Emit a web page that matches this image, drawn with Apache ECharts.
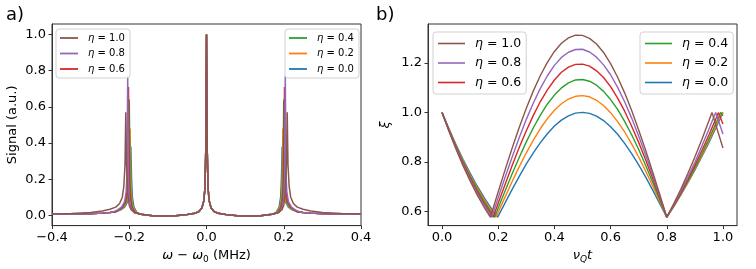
<!DOCTYPE html>
<html>
<head>
<meta charset="utf-8">
<script src="https://cdn.jsdelivr.net/npm/echarts@6/dist/echarts.min.js"></script>
<style>html,body{margin:0;padding:0;background:#fff}#chart{width:756px;height:269px}</style>
</head>
<body>
<div id="chart"></div>
<script>
// ---------- data ----------
const etaNames = ['η = 0.0', 'η = 0.2', 'η = 0.4', 'η = 0.6', 'η = 0.8', 'η = 1.0'];
const etaColors = ['#1f77b4', '#ff7f0e', '#2ca02c', '#d62728', '#9467bd', '#8c564b'];

// panel a) spectra: [omega - omega0 (MHz), signal]
const specEta00 = [[-0.4,0.006],[-0.35,0.007],[-0.3,0.009],[-0.27,0.012],[-0.25,0.015],[-0.235,0.02],[-0.222,0.03],[-0.212,0.045],[-0.204,0.075],[-0.2,0.13],[-0.198,0.22],[-0.196,0.38],[-0.194,0.2],[-0.192,0.1],[-0.188,0.045],[-0.18,0.015],[-0.17,0.006],[-0.14,-0.002],[-0.11,-0.004],[-0.08,-0.002],[-0.05,0.004],[-0.03,0.011],[-0.02,0.02],[-0.012,0.04],[-0.007,0.08],[-0.004,0.15],[-0.002,0.35],[0,1.0],[0.002,0.35],[0.004,0.15],[0.007,0.08],[0.012,0.04],[0.02,0.02],[0.03,0.011],[0.05,0.004],[0.08,-0.002],[0.11,-0.004],[0.14,-0.002],[0.17,0.006],[0.18,0.015],[0.188,0.045],[0.192,0.1],[0.194,0.2],[0.196,0.38],[0.198,0.22],[0.2,0.13],[0.204,0.075],[0.212,0.045],[0.222,0.03],[0.235,0.02],[0.25,0.015],[0.27,0.012],[0.3,0.009],[0.35,0.007],[0.4,0.006]];
const specEta02 = [[-0.4,0.006],[-0.35,0.007],[-0.3,0.009],[-0.27,0.012],[-0.25,0.015],[-0.235,0.02],[-0.224,0.03],[-0.214,0.045],[-0.206,0.075],[-0.202,0.13],[-0.2,0.22],[-0.198,0.48],[-0.196,0.2],[-0.194,0.1],[-0.19,0.045],[-0.182,0.015],[-0.17,0.006],[-0.14,-0.002],[-0.11,-0.004],[-0.08,-0.002],[-0.05,0.004],[-0.03,0.011],[-0.02,0.02],[-0.012,0.04],[-0.007,0.08],[-0.004,0.15],[-0.002,0.35],[0,1.0],[0.002,0.35],[0.004,0.15],[0.007,0.08],[0.012,0.04],[0.02,0.02],[0.03,0.011],[0.05,0.004],[0.08,-0.002],[0.11,-0.004],[0.14,-0.002],[0.17,0.006],[0.182,0.015],[0.19,0.045],[0.194,0.1],[0.196,0.2],[0.198,0.48],[0.2,0.22],[0.202,0.13],[0.206,0.075],[0.214,0.045],[0.224,0.03],[0.235,0.02],[0.25,0.015],[0.27,0.012],[0.3,0.009],[0.35,0.007],[0.4,0.006]];
const specEta04 = [[-0.4,0.006],[-0.35,0.007],[-0.3,0.009],[-0.27,0.012],[-0.25,0.015],[-0.235,0.02],[-0.226,0.03],[-0.216,0.045],[-0.208,0.075],[-0.204,0.13],[-0.202,0.22],[-0.2,0.64],[-0.198,0.2],[-0.196,0.1],[-0.192,0.045],[-0.184,0.015],[-0.17,0.006],[-0.14,-0.002],[-0.11,-0.004],[-0.08,-0.002],[-0.05,0.004],[-0.03,0.011],[-0.02,0.02],[-0.012,0.04],[-0.007,0.08],[-0.004,0.15],[-0.002,0.35],[0,1.0],[0.002,0.35],[0.004,0.15],[0.007,0.08],[0.012,0.04],[0.02,0.02],[0.03,0.011],[0.05,0.004],[0.08,-0.002],[0.11,-0.004],[0.14,-0.002],[0.17,0.006],[0.184,0.015],[0.192,0.045],[0.196,0.1],[0.198,0.2],[0.2,0.64],[0.202,0.22],[0.204,0.13],[0.208,0.075],[0.216,0.045],[0.226,0.03],[0.235,0.02],[0.25,0.015],[0.27,0.012],[0.3,0.009],[0.35,0.007],[0.4,0.006]];
const specEta06 = [[-0.4,0.006],[-0.35,0.007],[-0.3,0.009],[-0.27,0.012],[-0.25,0.015],[-0.235,0.02],[-0.228,0.03],[-0.218,0.045],[-0.21,0.075],[-0.206,0.13],[-0.204,0.22],[-0.202,0.71],[-0.2,0.2],[-0.198,0.1],[-0.194,0.045],[-0.186,0.015],[-0.17,0.006],[-0.14,-0.002],[-0.11,-0.004],[-0.08,-0.002],[-0.05,0.004],[-0.03,0.011],[-0.02,0.02],[-0.012,0.04],[-0.007,0.08],[-0.004,0.15],[-0.002,0.35],[0,1.0],[0.002,0.35],[0.004,0.15],[0.007,0.08],[0.012,0.04],[0.02,0.02],[0.03,0.011],[0.05,0.004],[0.08,-0.002],[0.11,-0.004],[0.14,-0.002],[0.17,0.006],[0.186,0.015],[0.194,0.045],[0.198,0.1],[0.2,0.2],[0.202,0.71],[0.204,0.22],[0.206,0.13],[0.21,0.075],[0.218,0.045],[0.228,0.03],[0.235,0.02],[0.25,0.015],[0.27,0.012],[0.3,0.009],[0.35,0.007],[0.4,0.006]];
const specEta08 = [[-0.4,0.006],[-0.35,0.007],[-0.3,0.009],[-0.27,0.012],[-0.25,0.015],[-0.24,0.02],[-0.23,0.03],[-0.22,0.045],[-0.212,0.075],[-0.208,0.13],[-0.206,0.22],[-0.204,0.77],[-0.202,0.2],[-0.2,0.1],[-0.196,0.045],[-0.188,0.015],[-0.17,0.006],[-0.14,-0.002],[-0.11,-0.004],[-0.08,-0.002],[-0.05,0.004],[-0.03,0.011],[-0.02,0.02],[-0.012,0.04],[-0.007,0.08],[-0.004,0.15],[-0.002,0.35],[0,1.0],[0.002,0.35],[0.004,0.15],[0.007,0.08],[0.012,0.04],[0.02,0.02],[0.03,0.011],[0.05,0.004],[0.08,-0.002],[0.11,-0.004],[0.14,-0.002],[0.17,0.006],[0.188,0.015],[0.196,0.045],[0.2,0.1],[0.202,0.2],[0.204,0.77],[0.206,0.22],[0.208,0.13],[0.212,0.075],[0.22,0.045],[0.23,0.03],[0.24,0.02],[0.25,0.015],[0.27,0.012],[0.3,0.009],[0.35,0.007],[0.4,0.006]];
const specEta10 = [[-0.4,0.007],[-0.35,0.01],[-0.3,0.016],[-0.27,0.024],[-0.25,0.033],[-0.235,0.045],[-0.225,0.065],[-0.218,0.1],[-0.214,0.16],[-0.211,0.28],[-0.209,0.57],[-0.207,0.28],[-0.204,0.12],[-0.2,0.055],[-0.195,0.03],[-0.185,0.014],[-0.17,0.006],[-0.14,-0.002],[-0.11,-0.004],[-0.08,-0.002],[-0.05,0.004],[-0.03,0.011],[-0.02,0.02],[-0.012,0.04],[-0.007,0.08],[-0.004,0.15],[-0.002,0.35],[0,1.0],[0.002,0.35],[0.004,0.15],[0.007,0.08],[0.012,0.04],[0.02,0.02],[0.03,0.011],[0.05,0.004],[0.08,-0.002],[0.11,-0.004],[0.14,-0.002],[0.17,0.006],[0.185,0.014],[0.195,0.03],[0.2,0.055],[0.204,0.12],[0.207,0.28],[0.209,0.57],[0.211,0.28],[0.214,0.16],[0.218,0.1],[0.225,0.065],[0.235,0.045],[0.25,0.033],[0.27,0.024],[0.3,0.016],[0.35,0.01],[0.4,0.007]];

// panel b) xi vs nu_Q t: [nu_Q t, xi]
const xiEta00 = [[0,1.0],[0.025,0.933],[0.05,0.869],[0.075,0.81],[0.1,0.755],[0.125,0.703],[0.15,0.656],[0.175,0.613],[0.198,0.577],[0.2,0.581],[0.225,0.636],[0.25,0.69],[0.275,0.742],[0.3,0.792],[0.325,0.837],[0.35,0.878],[0.375,0.914],[0.4,0.945],[0.425,0.969],[0.45,0.986],[0.475,0.997],[0.5,1.0],[0.525,0.996],[0.55,0.985],[0.575,0.967],[0.6,0.942],[0.625,0.912],[0.65,0.875],[0.675,0.834],[0.7,0.788],[0.725,0.739],[0.75,0.686],[0.775,0.632],[0.8,0.577],[0.825,0.621],[0.85,0.667],[0.875,0.716],[0.9,0.767],[0.925,0.822],[0.95,0.878],[0.975,0.938],[1.0,1.0]];
const xiEta02 = [[0,1.0],[0.025,0.931],[0.05,0.865],[0.075,0.805],[0.1,0.748],[0.125,0.696],[0.15,0.648],[0.175,0.604],[0.192,0.577],[0.2,0.597],[0.225,0.66],[0.25,0.722],[0.275,0.781],[0.3,0.837],[0.325,0.888],[0.35,0.935],[0.375,0.975],[0.4,1.009],[0.425,1.035],[0.45,1.054],[0.475,1.065],[0.5,1.068],[0.525,1.063],[0.55,1.049],[0.575,1.028],[0.6,0.999],[0.625,0.963],[0.65,0.921],[0.675,0.873],[0.7,0.82],[0.725,0.763],[0.75,0.703],[0.775,0.64],[0.8,0.577],[0.825,0.621],[0.85,0.668],[0.875,0.718],[0.9,0.771],[0.925,0.826],[0.95,0.884],[0.975,0.944],[0.997,1.0],[1.0,0.993]];
const xiEta04 = [[0,1.0],[0.025,0.929],[0.05,0.862],[0.075,0.8],[0.1,0.742],[0.125,0.689],[0.15,0.641],[0.175,0.597],[0.187,0.577],[0.2,0.614],[0.225,0.685],[0.25,0.753],[0.275,0.819],[0.3,0.881],[0.325,0.938],[0.35,0.989],[0.375,1.034],[0.4,1.07],[0.425,1.099],[0.45,1.119],[0.475,1.131],[0.5,1.133],[0.525,1.126],[0.55,1.11],[0.575,1.085],[0.6,1.052],[0.625,1.012],[0.65,0.964],[0.675,0.91],[0.7,0.85],[0.725,0.786],[0.75,0.718],[0.775,0.648],[0.8,0.577],[0.825,0.623],[0.85,0.671],[0.875,0.722],[0.9,0.776],[0.925,0.833],[0.95,0.893],[0.975,0.956],[0.992,1.0],[1.0,0.986]];
const xiEta06 = [[0,1.0],[0.025,0.927],[0.05,0.859],[0.075,0.795],[0.1,0.736],[0.125,0.682],[0.15,0.633],[0.175,0.589],[0.182,0.577],[0.2,0.634],[0.225,0.711],[0.25,0.787],[0.275,0.859],[0.3,0.926],[0.325,0.988],[0.35,1.044],[0.375,1.091],[0.4,1.131],[0.425,1.162],[0.45,1.183],[0.475,1.194],[0.5,1.195],[0.525,1.187],[0.55,1.168],[0.575,1.141],[0.6,1.104],[0.625,1.058],[0.65,1.005],[0.675,0.944],[0.7,0.879],[0.725,0.808],[0.75,0.733],[0.775,0.655],[0.8,0.577],[0.825,0.625],[0.85,0.675],[0.875,0.729],[0.9,0.786],[0.925,0.846],[0.95,0.909],[0.975,0.975],[0.984,1.0],[1.0,0.953]];
const xiEta08 = [[0,1.0],[0.025,0.925],[0.05,0.855],[0.075,0.79],[0.1,0.73],[0.125,0.675],[0.15,0.625],[0.177,0.577],[0.2,0.656],[0.225,0.74],[0.25,0.821],[0.275,0.899],[0.3,0.972],[0.325,1.038],[0.35,1.097],[0.375,1.148],[0.4,1.19],[0.425,1.222],[0.45,1.243],[0.475,1.254],[0.5,1.255],[0.525,1.244],[0.55,1.223],[0.575,1.192],[0.6,1.152],[0.625,1.101],[0.65,1.043],[0.675,0.977],[0.7,0.905],[0.725,0.827],[0.75,0.746],[0.775,0.662],[0.8,0.577],[0.825,0.627],[0.85,0.681],[0.875,0.739],[0.9,0.799],[0.925,0.864],[0.95,0.932],[0.974,1.0],[1.0,0.913]];
const xiEta10 = [[0,1.0],[0.025,0.923],[0.05,0.851],[0.075,0.784],[0.1,0.723],[0.125,0.667],[0.15,0.617],[0.172,0.577],[0.175,0.588],[0.2,0.68],[0.225,0.77],[0.25,0.857],[0.275,0.94],[0.3,1.017],[0.325,1.087],[0.35,1.149],[0.375,1.202],[0.4,1.246],[0.425,1.279],[0.45,1.301],[0.475,1.312],[0.5,1.311],[0.525,1.299],[0.55,1.276],[0.575,1.242],[0.6,1.197],[0.625,1.142],[0.65,1.079],[0.675,1.008],[0.7,0.929],[0.725,0.846],[0.75,0.759],[0.775,0.669],[0.8,0.577],[0.825,0.632],[0.85,0.69],[0.875,0.753],[0.9,0.82],[0.925,0.891],[0.95,0.966],[0.961,1.0],[0.975,0.948],[1.0,0.856]];

const spectra = [specEta00, specEta02, specEta04, specEta06, specEta08, specEta10];
const xis = [xiEta00, xiEta02, xiEta04, xiEta06, xiEta08, xiEta10];

const ticksA_x = [-0.4, -0.2, 0.0, 0.2, 0.4];
const ticksA_y = [0.0, 0.2, 0.4, 0.6, 0.8, 1.0];
const ticksB_x = [0.0, 0.2, 0.4, 0.6, 0.8, 1.0];
const ticksB_y = [0.6, 0.8, 1.0, 1.2];

// ---------- chart ----------
const FONT = 'DejaVu Sans';
const AXC = '#333';
const fmt = v => (v < 0 ? '\u2212' : '') + Math.abs(v).toFixed(1);

function axisCommon(extra) {
  return Object.assign({
    type: 'value',
    splitLine: { show: false },
    axisLine: { show: true, onZero: false, lineStyle: { color: AXC, width: 1 } },
    nameTextStyle: { color: '#000', fontSize: 13, fontFamily: FONT }
  }, extra);
}
function tick(vals) {
  return { show: true, inside: false, length: 3.5, lineStyle: { color: AXC, width: 1 }, customValues: vals };
}
function lab(vals) {
  return { color: '#000', fontSize: 13, fontFamily: FONT, margin: 6, formatter: fmt, customValues: vals };
}

const richName = {
  i: { fontStyle: 'italic', fontSize: 13, fontFamily: FONT, color: '#000', lineHeight: 16 },
  n: { fontSize: 13, fontFamily: FONT, color: '#000', lineHeight: 16 },
  s: { fontStyle: 'normal', fontSize: 9, fontFamily: FONT, color: '#000', lineHeight: 16, verticalAlign: 'bottom' },
  si: { fontStyle: 'italic', fontSize: 9, fontFamily: FONT, color: '#000', lineHeight: 16, verticalAlign: 'bottom' }
};

function legendCfg(data, left, top, big) {
  const fs = big ? 12.5 : 10;
  const lh = big ? 15 : 12;
  return {
    data: data,
    left: left, top: top,
    orient: 'vertical',
    selectedMode: false,
    icon: 'rect',
    itemWidth: big ? 27 : 18,
    itemHeight: big ? 1.6 : 1.8,
    itemGap: big ? 4.5 : 3.5,
    padding: big ? [4, 5, 4, 5] : [3, 5, 3, 4],
    backgroundColor: 'rgba(255,255,255,0.8)',
    borderColor: 'rgba(204,204,204,0.9)',
    borderWidth: 1,
    borderRadius: 3,
    formatter: n => '{i|η}{t| = ' + n.split('= ')[1] + '}',
    textStyle: {
      fontFamily: FONT, fontSize: fs, color: '#000', lineHeight: lh,
      rich: {
        i: { fontStyle: 'italic', fontSize: fs, fontFamily: FONT, padding: [0, 0, 0, 5], lineHeight: lh },
        t: { fontSize: fs, fontFamily: FONT, lineHeight: lh }
      }
    }
  };
}

const series = [];
for (let k = 0; k < 6; k++) {
  series.push({
    name: etaNames[k], type: 'line', xAxisIndex: 0, yAxisIndex: 0,
    data: spectra[k], symbol: 'none', smooth: false,
    lineStyle: { color: etaColors[k], width: 1.5 }, itemStyle: { color: etaColors[k] },
    z: 2 + k * 0.01
  });
}
for (let k = 0; k < 6; k++) {
  series.push({
    name: etaNames[k], type: 'line', xAxisIndex: 1, yAxisIndex: 1,
    data: xis[k], symbol: 'none', smooth: false,
    lineStyle: { color: etaColors[k], width: 1.4 }, itemStyle: { color: etaColors[k] },
    z: 2 + k * 0.01
  });
}

const option = {
  animation: false,
  backgroundColor: '#fff',
  textStyle: { fontFamily: FONT },
  title: [
    { text: 'a)', left: 1, top: 1, textStyle: { fontSize: 18, fontWeight: 'normal', color: '#000', fontFamily: FONT } },
    { text: 'b)', left: 371, top: 1, textStyle: { fontSize: 18, fontWeight: 'normal', color: '#000', fontFamily: FONT } }
  ],
  grid: [
    { left: 52, right: 395, top: 24, bottom: 43, show: true, borderColor: AXC, borderWidth: 1, backgroundColor: 'transparent' },
    { left: 428, right: 19, top: 24, bottom: 43, show: true, borderColor: AXC, borderWidth: 1, backgroundColor: 'transparent' }
  ],
  xAxis: [
    axisCommon({
      gridIndex: 0, min: -0.4, max: 0.4,
      axisTick: tick(ticksA_x), axisLabel: lab(ticksA_x),
      name: '{i|ω}{n| \u2212 }{i|ω}{s|0}{n| (MHz)}', nameLocation: 'middle', nameGap: 19,
      nameTextStyle: { rich: richName }
    }),
    axisCommon({
      gridIndex: 1, min: -0.05, max: 1.05,
      axisTick: tick(ticksB_x), axisLabel: lab(ticksB_x),
      name: '{i|ν}{si|Q}{i|t}', nameLocation: 'middle', nameGap: 19,
      nameTextStyle: { rich: richName }
    })
  ],
  yAxis: [
    axisCommon({
      gridIndex: 0, min: -0.057, max: 1.058,
      axisTick: tick(ticksA_y), axisLabel: lab(ticksA_y),
      name: 'Signal (a.u.)', nameLocation: 'middle', nameGap: 33,
      nameTextStyle: { color: '#000', fontSize: 13, fontFamily: FONT }
    }),
    axisCommon({
      gridIndex: 1, min: 0.543, max: 1.357,
      axisTick: tick(ticksB_y), axisLabel: lab(ticksB_y),
      name: '{i|ξ}', nameLocation: 'middle', nameGap: 34,
      nameTextStyle: { rich: richName }
    })
  ],
  legend: [
    legendCfg(['η = 1.0', 'η = 0.8', 'η = 0.6'], 56, 29, false),
    legendCfg(['η = 0.4', 'η = 0.2', 'η = 0.0'], 285, 29, false),
    legendCfg(['η = 1.0', 'η = 0.8', 'η = 0.6'], 433, 32, true),
    legendCfg(['η = 0.4', 'η = 0.2', 'η = 0.0'], 640, 32, true)
  ],
  series: series
};

const chart = echarts.init(document.getElementById('chart'), null, { renderer: 'canvas' });
chart.setOption(option);
</script>
</body>
</html>
